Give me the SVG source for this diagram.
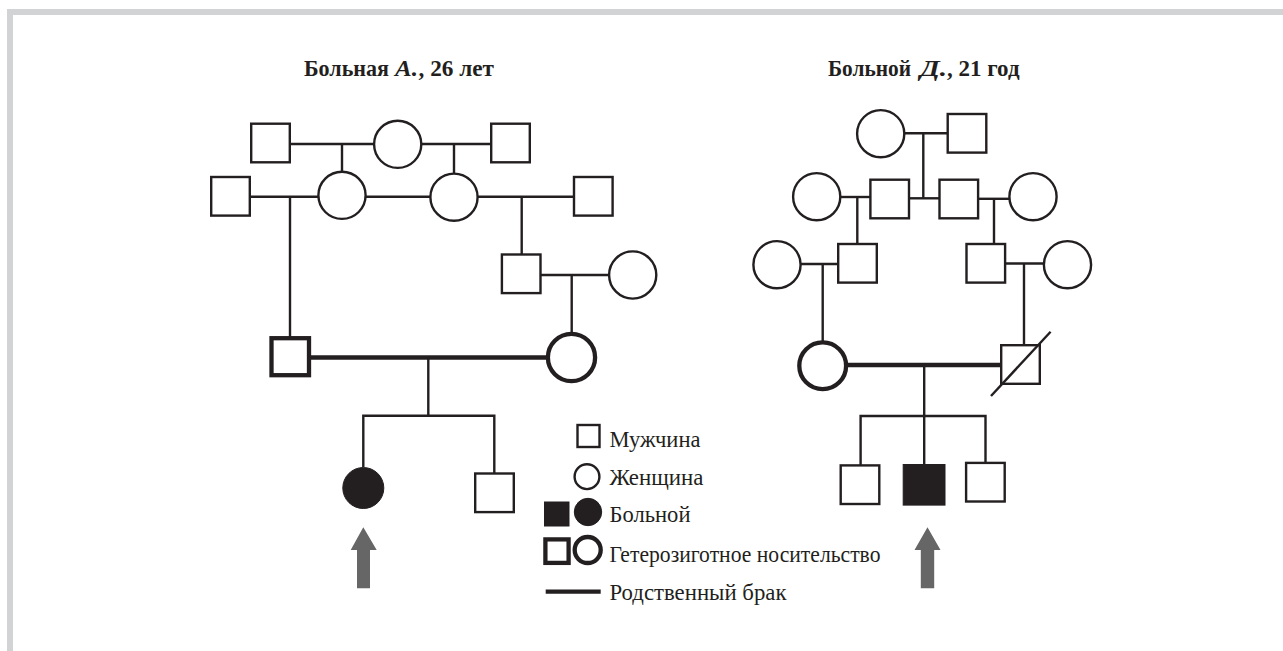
<svg xmlns="http://www.w3.org/2000/svg" width="1283" height="651" viewBox="0 0 1283 651">
<style>
.ln{stroke:#231f20;stroke-width:2.4;fill:none}
.thk{stroke:#231f20;stroke-width:4.3;fill:none}
.nd{stroke:#231f20;stroke-width:2.4;fill:#fff}
.het{stroke:#231f20;stroke-width:4.3;fill:#fff}
.aff{fill:#231f20;stroke:#231f20;stroke-width:1}
.arr{fill:#666666}
.title{font-family:"Liberation Serif","Times New Roman",serif;font-weight:bold;font-size:24px;fill:#231f20}
.it{font-style:italic}
.leg{font-family:"Liberation Serif","Times New Roman",serif;font-size:22.5px;fill:#231f20}
</style>
<rect width="1283" height="651" fill="#fff"/>
<g id="frame" stroke="#d1d3d4" stroke-width="6" fill="none">
<line x1="7" y1="12" x2="1283" y2="12"/>
<line x1="10" y1="9" x2="10" y2="651"/>
</g>
<g id="titles">
<text class="title" x="304" y="75.5" textLength="85" lengthAdjust="spacingAndGlyphs">Больная</text>
<text class="title it" x="395" y="75.5" textLength="23" lengthAdjust="spacingAndGlyphs">А.</text>
<text class="title" x="418.5" y="75.5" textLength="75.5" lengthAdjust="spacingAndGlyphs">, 26 лет</text>
<text class="title" x="828" y="75.5" textLength="83" lengthAdjust="spacingAndGlyphs">Больной</text>
<text class="title it" x="920" y="75.5" textLength="27" lengthAdjust="spacingAndGlyphs">Д.</text>
<text class="title" x="947" y="75.5" textLength="72.5" lengthAdjust="spacingAndGlyphs">, 21 год</text>
</g>
<g id="connectors">
<!-- left pedigree -->
<line class="ln" x1="291" y1="144" x2="374" y2="144"/>
<line class="ln" x1="421" y1="144" x2="491" y2="144"/>
<line class="ln" x1="342" y1="144" x2="342" y2="172"/>
<line class="ln" x1="454" y1="144" x2="454" y2="174"/>
<line class="ln" x1="250" y1="196.7" x2="319" y2="196.7"/>
<line class="ln" x1="365" y1="196.7" x2="431" y2="196.7"/>
<line class="ln" x1="477" y1="196.7" x2="574" y2="196.7"/>
<line class="ln" x1="290" y1="196.7" x2="290" y2="338"/>
<line class="ln" x1="521.7" y1="196.7" x2="521.7" y2="254.5"/>
<line class="ln" x1="540.5" y1="275" x2="609" y2="275"/>
<line class="ln" x1="571.7" y1="275" x2="571.7" y2="334"/>
<line class="thk" x1="309" y1="357.5" x2="548" y2="357.5"/>
<line class="ln" x1="428.3" y1="357.5" x2="428.3" y2="415.7"/>
<polyline class="ln" points="363.3,467 363.3,415.7 494.3,415.7 494.3,473.5"/>
<!-- right pedigree -->
<line class="ln" x1="904" y1="133.3" x2="947.7" y2="133.3"/>
<line class="ln" x1="923.3" y1="133.3" x2="923.3" y2="198.3"/>
<line class="ln" x1="840" y1="197" x2="870.4" y2="197"/>
<line class="ln" x1="909" y1="198.3" x2="939.5" y2="198.3"/>
<line class="ln" x1="978" y1="198.8" x2="1009.5" y2="198.8"/>
<line class="ln" x1="857.3" y1="197" x2="857.3" y2="244"/>
<line class="ln" x1="994" y1="198.8" x2="994" y2="244"/>
<line class="ln" x1="800.5" y1="264" x2="838.2" y2="264"/>
<line class="ln" x1="1005" y1="263.5" x2="1044" y2="263.5"/>
<line class="ln" x1="822.7" y1="264" x2="822.7" y2="342.5"/>
<line class="ln" x1="1024" y1="263.5" x2="1024" y2="345"/>
<line class="thk" x1="844" y1="365" x2="1001.2" y2="365"/>
<line class="ln" x1="924.2" y1="365" x2="924.2" y2="465"/>
<polyline class="ln" points="860.6,465.4 860.6,416 985.5,416 985.5,463"/>
</g>
<g id="left-pedigree">
<rect id="L_I1" class="nd" x="251.2" y="123.7" width="38.6" height="38.6"/>
<circle id="L_I2" class="nd" cx="397.7" cy="144.3" r="23.6"/>
<rect id="L_I3" class="nd" x="491.2" y="123.7" width="38.6" height="38.6"/>
<rect id="L_II1" class="nd" x="211.2" y="177" width="38.6" height="38.6"/>
<circle id="L_II2" class="nd" cx="342" cy="195.3" r="23.6"/>
<circle id="L_II3" class="nd" cx="454" cy="197.2" r="23.6"/>
<rect id="L_II4" class="nd" x="574" y="177" width="38.6" height="38.6"/>
<rect id="L_III1" class="nd" x="501.9" y="254.5" width="38.6" height="38.6"/>
<circle id="L_III2" class="nd" cx="632.7" cy="275" r="23.6"/>
<rect id="L_IV1" class="het" x="271.5" y="338.2" width="37.5" height="37"/>
<circle id="L_IV2" class="het" cx="571.5" cy="357.5" r="23.6"/>
<circle id="L_V1" class="aff" cx="363.3" cy="488" r="20.5"/>
<rect id="L_V2" class="nd" x="475.2" y="473.5" width="38.6" height="38.6"/>
<polygon id="L_arrow" class="arr" points="363.3,527.3 376.7,550 370,550 370,588.3 357,588.3 357,550 350.7,550"/>
</g>
<g id="right-pedigree">
<circle id="R_I1" class="nd" cx="880.7" cy="133.7" r="23.6"/>
<rect id="R_I2" class="nd" x="947.7" y="114" width="38.6" height="38.6"/>
<circle id="R_II1" class="nd" cx="816.7" cy="196.7" r="23.6"/>
<rect id="R_II2" class="nd" x="870.4" y="179.7" width="38.6" height="38.6"/>
<rect id="R_II3" class="nd" x="939.5" y="179.7" width="38.6" height="38.6"/>
<circle id="R_II4" class="nd" cx="1033" cy="196.7" r="23.6"/>
<circle id="R_III1" class="nd" cx="777" cy="264.7" r="23.6"/>
<rect id="R_III2" class="nd" x="838.2" y="244" width="38.6" height="38.6"/>
<rect id="R_III3" class="nd" x="966.5" y="244" width="38.6" height="38.6"/>
<circle id="R_III4" class="nd" cx="1067.5" cy="264.7" r="23.6"/>
<circle id="R_IV1" class="het" cx="822.7" cy="365.8" r="23.4"/>
<g id="R_IV2">
<rect class="nd" x="1001.2" y="345.2" width="38.6" height="38.6"/>
<line class="ln" x1="991" y1="396" x2="1050.6" y2="331.7"/>
</g>
<rect id="R_V1" class="nd" x="840.7" y="465.4" width="38.6" height="38.6"/>
<rect id="R_V2" class="aff" x="903.2" y="464.5" width="41.8" height="40.6"/>
<rect id="R_V3" class="nd" x="966.1" y="462.9" width="38.6" height="38.6"/>
<polygon id="R_arrow" class="arr" points="927.5,527.3 940.5,550 934.2,550 934.2,588.3 920.8,588.3 920.8,550 914.5,550"/>
</g>
<g id="legend">
<rect class="nd" x="577.5" y="425" width="22" height="22" stroke-width="2.2"/>
<text class="leg" x="609.5" y="447" textLength="91" lengthAdjust="spacingAndGlyphs">Мужчина</text>
<circle class="nd" cx="587" cy="476.7" r="12.4" stroke-width="2.2"/>
<text class="leg" x="609.5" y="485" textLength="94" lengthAdjust="spacingAndGlyphs">Женщина</text>
<rect class="aff" x="544.5" y="502" width="24.5" height="24"/>
<circle class="aff" cx="588" cy="512" r="13.7"/>
<text class="leg" x="609.5" y="522" textLength="81" lengthAdjust="spacingAndGlyphs">Больной</text>
<rect class="het" x="545.4" y="539.4" width="23.2" height="23.5" stroke-width="4"/>
<circle class="het" cx="587.7" cy="550" r="13" stroke-width="4"/>
<text class="leg" x="609.5" y="562" textLength="271" lengthAdjust="spacingAndGlyphs">Гетерозиготное носительство</text>
<line class="thk" x1="545.7" y1="591.7" x2="600.7" y2="591.7" stroke-width="4.5"/>
<text class="leg" x="609.5" y="600" textLength="177" lengthAdjust="spacingAndGlyphs">Родственный брак</text>
</g>
</svg>
